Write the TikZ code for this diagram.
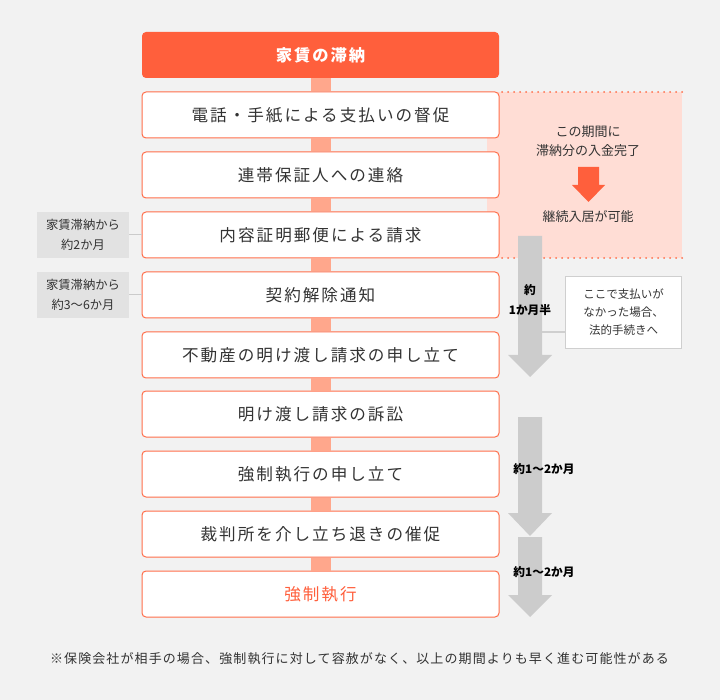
\documentclass[tikz,border=0pt]{standalone}
\usepackage{fontspec}
\setmainfont{Noto Sans CJK JP}
\newfontfamily\boxfont[LetterSpace=12]{Noto Sans CJK JP}
\newfontfamily\notefont[LetterSpace=8.5]{Noto Sans CJK JP}
\definecolor{bgc}{HTML}{F2F2F2}
\definecolor{orng}{HTML}{FF5F3C}
\definecolor{bord}{HTML}{FF6E4A}
\definecolor{barc}{HTML}{FFA78C}
\definecolor{pinkc}{HTML}{FFDDD5}
\definecolor{grayarr}{HTML}{CCCCCC}
\definecolor{sidec}{HTML}{E2E2E2}
\definecolor{txt}{HTML}{333333}
\definecolor{callb}{HTML}{CFCFCF}
\begin{document}
\begin{tikzpicture}[x=1pt,y=-1pt,
  stepbox/.style={draw=bord, line width=1pt, fill=white, rounded corners=4pt,
    minimum width=357pt, minimum height=46pt, inner sep=0pt,
    font=\boxfont\fontsize{16.6}{19}\selectfont, text=txt},
  titlebox/.style={fill=orng, rounded corners=4pt, minimum width=357pt,
    minimum height=46pt, inner sep=0pt, text=white,
    font=\boxfont\bfseries\fontsize{16.3}{19}\selectfont},
  bar/.style={draw=barc, line width=20pt},
  sidebox/.style={fill=sidec, minimum width=92pt, minimum height=46pt, inner sep=0pt,
    align=center, font=\fontsize{12.3}{20}\selectfont, text=txt},
  sideline/.style={draw=sidec!90!black, line width=1pt},
  pinktext/.style={font=\fontsize{13}{15}\selectfont, text=txt},
  arrlabel/.style={font=\bfseries\fontsize{11.7}{14}\selectfont, text=black},
  callout/.style={draw=callb, line width=1.5pt, fill=white, minimum width=116pt,
    minimum height=72pt, inner sep=0pt, align=center,
    font=\fontsize{11.5}{18}\selectfont, text=txt},
  dotline/.style={draw=bord, line width=2pt, line cap=round, dash pattern=on 0pt off 6pt}
]
\useasboundingbox (0,0) rectangle (720,700);
\fill[bgc] (0,0) rectangle (720,700);

% pink region
\fill[pinkc] (487,92) rectangle (682,258);
\coordinate (p1) at (502,92);
\coordinate (p2) at (682,92);
\coordinate (p3) at (502,258);
\coordinate (p4) at (682,258);
\draw[dotline] (p1) -- (p2);
\draw[dotline] (p3) -- (p4);
\node[pinktext] (pt1) at (588,132) {この期間に};
\node[pinktext] (pt2) at (588,151) {滞納分の入金完了};
\fill[orng] (578,167) -- (599,167) -- (599,185) -- (605,185) -- (588.5,202) -- (572,185) -- (578,185) -- cycle;
\node[pinktext] (pt3) at (588,217) {継続入居が可能};

% main nodes
\node[titlebox] (t) at (320.5,55) {家賃の滞納};
\node[stepbox] (b1) at (320.5,115) {電話・手紙による支払いの督促};
\node[stepbox] (b2) at (320.5,175) {連帯保証人への連絡};
\node[stepbox] (b3) at (320.5,235) {内容証明郵便による請求};
\node[stepbox] (b4) at (320.5,295) {契約解除通知};
\node[stepbox] (b5) at (320.5,355) {不動産の明け渡し請求の申し立て};
\node[stepbox] (b6) at (320.5,414) {明け渡し請求の訴訟};
\node[stepbox] (b7) at (320.5,474) {強制執行の申し立て};
\node[stepbox] (b8) at (320.5,534) {裁判所を介し立ち退きの催促};
\node[stepbox, text=orng] (b9) at (320.5,594) {強制執行};

% bars
\draw[bar] (t.south) -- (b1.north);
\draw[bar] (b1.south) -- (b2.north);
\draw[bar] (b2.south) -- (b3.north);
\draw[bar] (b3.south) -- (b4.north);
\draw[bar] (b4.south) -- (b5.north);
\draw[bar] (b5.south) -- (b6.north);
\draw[bar] (b6.south) -- (b7.north);
\draw[bar] (b7.south) -- (b8.north);
\draw[bar] (b8.south) -- (b9.north);

% side labels
\node[sidebox] (s1) at (83,235) {家賃滞納から\\約2か月};
\node[sidebox] (s2) at (83,295) {家賃滞納から\\約3〜6か月};
\draw[sideline] (s1.east) -- (b3.west);
\draw[sideline] (s2.east) -- (b4.west);

% gray arrows
\fill[grayarr] (518,236) -- (542,236) -- (542,355) -- (552,355) -- (530,377) -- (508,355) -- (518,355) -- cycle;
\fill[grayarr] (518,417) -- (542,417) -- (542,513) -- (552,513) -- (530,536) -- (508,513) -- (518,513) -- cycle;
\fill[grayarr] (518,537) -- (542,537) -- (542,595) -- (552,595) -- (530,617) -- (508,595) -- (518,595) -- cycle;
\node[arrlabel] (a1a) at (530,290) {約};
\node[arrlabel] (a1b) at (530,310) {1か月半};
\node[arrlabel] (a2) at (544,469) {約1〜2か月};
\node[arrlabel] (a3) at (544,572) {約1〜2か月};

% callout
\node[callout] (co) at (623.5,312.5) {ここで支払いが\\なかった場合、\\法的手続きへ};
\coordinate (cs) at (542,332);
\draw[draw=callb, line width=1.5pt] (cs) -- (cs -| co.west);

% footnote
\node[font=\notefont\fontsize{13}{15}\selectfont, text=txt] (fn) at (359.5,659) {※保険会社が相手の場合、強制執行に対して容赦がなく、以上の期間よりも早く進む可能性がある};
\end{tikzpicture}
\end{document}
